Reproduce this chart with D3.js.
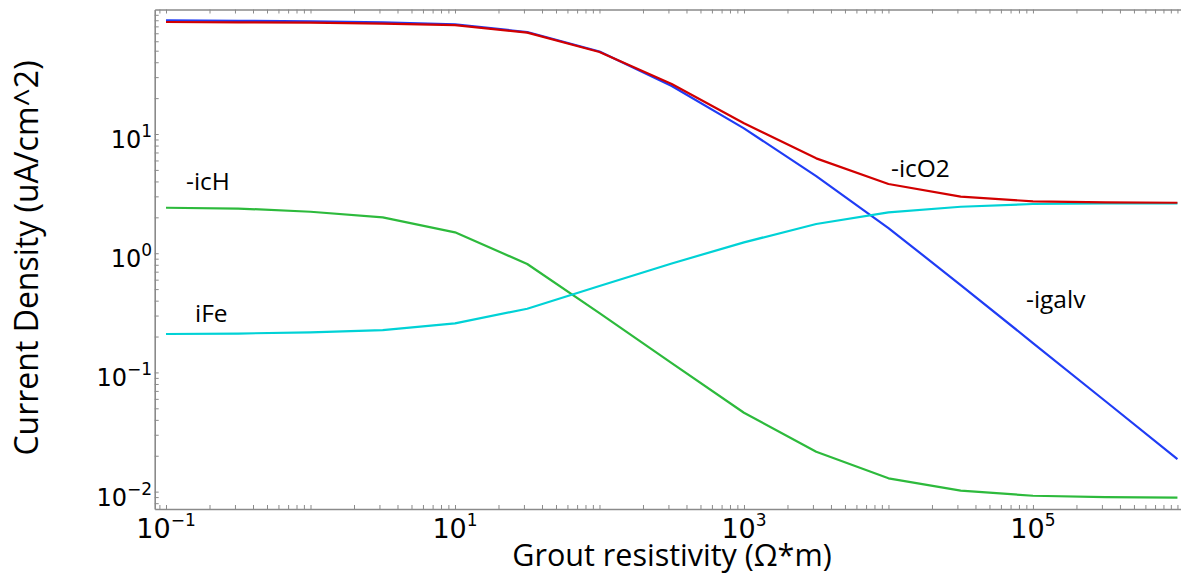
<!DOCTYPE html>
<html>
<head>
<meta charset="utf-8">
<script src="https://cdn.jsdelivr.net/npm/d3@7"></script>
<style>
  html, body { margin: 0; padding: 0; background: #fff; }
  svg { display: block; }
  .tick-label { font-family: "DejaVu Sans", sans-serif; fill: #000; }
  .title, .note { font-family: "Open Sans", "Lato", sans-serif; fill: #000; }
</style>
</head>
<body>
<svg id="chart" width="1181" height="575"></svg>
<script>
// Grout resistivity (Ohm*m), half-decade steps
const resistivity = [0.1, 0.3162, 1, 3.162, 10, 31.62, 100, 316.2, 1000, 3162, 1e4, 31623, 1e5, 316228, 1e6];

// Current densities (uA/cm^2)
const igalv = [89.9, 89.1, 88.2, 86.5, 83.2, 71.7, 49.2, 25.3, 11.16, 4.44, 1.627, 0.541, 0.1764, 0.0576, 0.01877];
const icO2  = [87.0, 86.5, 85.9, 84.5, 81.8, 70.8, 48.8, 26.3, 12.3, 6.25, 3.81, 2.98, 2.725, 2.673, 2.652];
const iFe   = [0.210, 0.212, 0.217, 0.2268, 0.2582, 0.3423, 0.5307, 0.820, 1.234, 1.758, 2.203, 2.455, 2.587, 2.612, 2.622];
const icH   = [2.408, 2.371, 2.229, 2.001, 1.497, 0.812, 0.3149, 0.1199, 0.0459, 0.02162, 0.01293, 0.01018, 0.00924, 0.00901, 0.00889];

// Labelled decades
const xTickExp = [-1, 1, 3, 5];
const yTickExp = [-2, -1, 0, 1];

// Curve labels
const noteText = ["-icH", "iFe", "-icO2", "-igalv"];

const svg = d3.select("#chart");
const plotLeft = 154.7, plotRight = 1185, plotTop = 9.5, plotBottom = 509;

const x = d3.scaleLog().domain([0.0835, 1.128e6]).range([plotLeft, plotRight]);
const y = d3.scaleLog().domain([0.00715, 110.8]).range([plotBottom, plotTop]);

// minor/major log ticks (1..9 per decade) inside the domain
function logTicks(scale, e0, e1) {
  const out = [];
  const [d0, d1] = scale.domain();
  for (let e = e0; e <= e1; e++)
    for (let m = 1; m <= 9; m++) {
      const v = m * Math.pow(10, e);
      if (v >= d0 && v <= d1) out.push(v);
    }
  return out;
}
const xt = logTicks(x, -2, 6);
const yt = logTicks(y, -3, 2);

function styleAxis(g) {
  g.select(".domain").attr("stroke", "#8a8a8a").attr("stroke-width", 1.6);
  g.selectAll(".tick line").attr("stroke", "#8a8a8a").attr("stroke-width", 1);
  g.selectAll(".tick text").remove();
}

svg.append("g").attr("transform", `translate(0,${plotBottom})`)
  .call(d3.axisBottom(x).tickValues(xt).tickSize(-4).tickSizeOuter(0).tickFormat(""))
  .call(styleAxis);
svg.append("g").attr("transform", `translate(0,${plotTop})`)
  .call(d3.axisTop(x).tickValues(xt).tickSize(-4).tickSizeOuter(0).tickFormat(""))
  .call(styleAxis);
svg.append("g").attr("transform", `translate(${plotLeft},0)`)
  .call(d3.axisLeft(y).tickValues(yt).tickSize(-4).tickSizeOuter(0).tickFormat(""))
  .call(styleAxis);

// power-of-ten tick labels
const supText = e => (e < 0 ? "\u2212" + Math.abs(e) : String(e));

xTickExp.forEach(e => {
  const t = svg.append("text").attr("class", "tick-label")
    .attr("x", x(Math.pow(10, e))).attr("y", 538)
    .attr("text-anchor", "middle");
  t.append("tspan").attr("font-size", 27).text("10");
  t.append("tspan").attr("font-size", 17).attr("dy", -12).text(supText(e));
});

yTickExp.forEach(e => {
  const t = svg.append("text").attr("class", "tick-label")
    .attr("x", 152).attr("y", y(Math.pow(10, e)) + 14)
    .attr("text-anchor", "end");
  t.append("tspan").attr("font-size", 24).text("10");
  t.append("tspan").attr("font-size", 17).attr("dy", -11).text(supText(e));
});

// axis titles
svg.append("text").attr("class", "title")
  .attr("x", 672).attr("y", 566).attr("text-anchor", "middle")
  .attr("font-size", 30.5).text("Grout resistivity (\u03A9*m)");
svg.append("text").attr("class", "title")
  .attr("transform", "translate(38,258) rotate(-90)").attr("text-anchor", "middle")
  .attr("font-size", 32).text("Current Density (uA/cm^2)");

// series lines
const series = [
  { values: icH,   color: "#2dba3c" },
  { values: igalv, color: "#1f3cf5" },
  { values: iFe,   color: "#00d2d6" },
  { values: icO2,  color: "#d20000" }
];
const line = d3.line().x(d => x(d[0])).y(d => y(d[1]));
series.forEach(s => {
  svg.append("path")
    .datum(resistivity.map((r, i) => [r, s.values[i]]))
    .attr("fill", "none").attr("stroke", s.color)
    .attr("stroke-width", 2.2).attr("stroke-linejoin", "round")
    .attr("d", line);
});

// curve labels
const notePos = [[186, 190], [195, 321.7], [891, 177], [1026, 308.3]];
noteText.forEach((t, i) => {
  svg.append("text").attr("class", "note")
    .attr("x", notePos[i][0]).attr("y", notePos[i][1])
    .attr("font-size", 24.5).text(t);
});
</script>
</body>
</html>
